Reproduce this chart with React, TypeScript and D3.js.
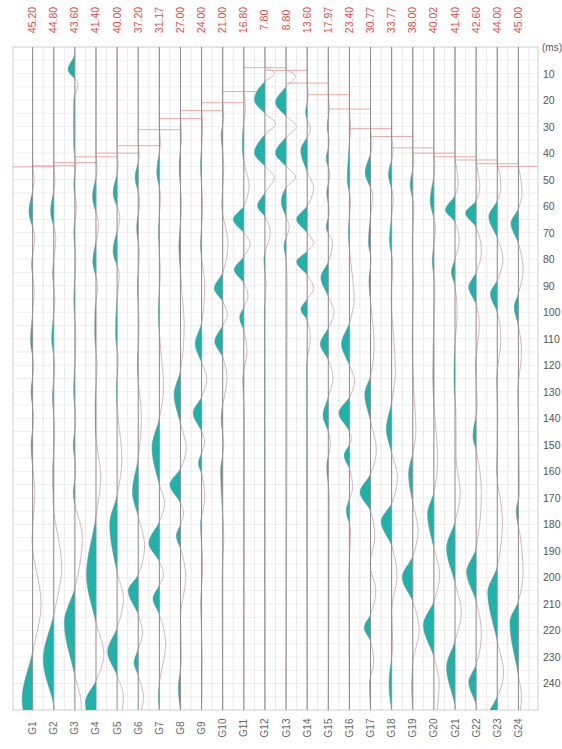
import React, { useRef, useEffect } from 'react';
import * as d3 from 'd3';

// trace names (bottom) and first-break picks in ms (top, red)
const traceNames = ['G1', 'G2', 'G3', 'G4', 'G5', 'G6', 'G7', 'G8', 'G9', 'G10', 'G11', 'G12',
  'G13', 'G14', 'G15', 'G16', 'G17', 'G18', 'G19', 'G20', 'G21', 'G22', 'G23', 'G24'];
const pickTimes = [45.2, 44.8, 43.6, 41.4, 40.0, 37.2, 31.17, 27.0, 24.0, 21.0, 16.8, 7.8,
  8.8, 13.6, 17.97, 23.4, 30.77, 33.77, 38.0, 40.02, 41.4, 42.6, 44.0, 45.0];
const pickLabels = ['45.20', '44.80', '43.60', '41.40', '40.00', '37.20', '31.17', '27.00', '24.00', '21.00', '16.80', '7.80',
  '8.80', '13.60', '17.97', '23.40', '30.77', '33.77', '38.00', '40.02', '41.40', '42.60', '44.00', '45.00'];
const timeTicks = [10, 20, 30, 40, 50, 60, 70, 80, 90, 100, 110, 120, 130, 140, 150, 160, 170, 180, 190, 200, 210, 220, 230, 240];

// wiggle traces: [time ms, amplitude] (positive = filled lobe, drawn to the left)
const g1 = [[0, 0], [44, 0], [50, -0.15], [62, 0.35], [72, -0.2], [82, 0.1], [92, -0.15], [100, 0], [111, 0.2], [120, -0.1], [130, 0.15], [140, -0.1], [150, 0.15], [168, -0.2], [186, 0.05], [210, -0.8], [228, 0], [246, 1.0], [250, 0.9]];
const g2 = [[0, 0], [44, 0], [50, -0.12], [62, 0.3], [72, -0.2], [85, 0.1], [95, -0.1], [110, 0.2], [120, -0.1], [132, 0.12], [145, -0.1], [160, 0.1], [172, 0.05], [196, -0.75], [214, 0], [231, 1.0], [248, 0], [250, -0.1]];
const g3 = [[0, 0], [3, 0.05], [8.5, 0.65], [14, -0.3], [20, 0.1], [30, 0.12], [38, 0.1], [44, -0.1], [52, 0.1], [60, -0.15], [70, 0.1], [80, -0.1], [95, 0.1], [110, -0.1], [130, 0.12], [140, -0.1], [150, 0.15], [160, -0.1], [168, 0.15], [185, -0.7], [204, 0], [217, 1.05], [237, 0], [248, -0.6], [250, -0.6]];
const g4 = [[0, 0], [40, 0], [46, -0.1], [56.5, 0.33], [67, -0.25], [81, 0.3], [90, -0.15], [100, 0.1], [108, 0.12], [120, -0.1], [135, 0.08], [145, 0.05], [162, -0.45], [177, 0], [199, 0.9], [217, 0], [229, -0.75], [239, 0], [247, 1.05], [250, 0.95]];
const g5 = [[0, 0], [39, 0], [45, -0.1], [55, 0.38], [64, -0.25], [77, 0.38], [86, -0.2], [97, 0.05], [108, 0.15], [118, -0.1], [130, 0.08], [140, -0.1], [155, -0.45], [169, 0], [180, 0.7], [198, 0], [208, -0.6], [219, 0], [228, 0.9], [237, 0], [245, -0.6], [250, -0.5]];
const g6 = [[0, 0], [36, 0], [41, -0.1], [49, 0.3], [58, -0.15], [68, 0.15], [78, -0.1], [90, 0.08], [105, -0.08], [120, 0.08], [140, -0.3], [155, 0], [168, 0.55], [177, 0], [188, -0.6], [199, 0], [205, 0.95], [214, 0], [221, -0.4], [227, 0], [232, 0.4], [237, 0], [245, -0.5], [250, -0.3]];
const g7 = [[0, 0], [30, 0], [36, -0.1], [47, 0.25], [56, -0.1], [70, 0.08], [85, -0.08], [100, 0.1], [115, -0.15], [128, -0.4], [140, 0], [151, 0.7], [165, 0], [172, -0.5], [179, 0], [187, 1.05], [194, 0], [199, -0.4], [203, 0], [208, 0.6], [214, 0], [225, -0.6], [240, 0], [245, 0.1], [250, 0]];
const g8 = [[0, 0], [26, 0], [33, -0.1], [45, 0.12], [60, -0.1], [75, 0.15], [90, -0.1], [105, -0.35], [122, 0], [131, 0.6], [142, 0], [151, -0.55], [159, 0], [165, 1.0], [172, 0], [176, -0.3], [180, 0], [184.5, 0.4], [189, 0], [200, -0.5], [215, 0], [230, -0.1], [242, 0.2], [250, 0]];
const g9 = [[0, 0], [23, 0], [30, -0.1], [45, 0.1], [60, -0.1], [75, 0.1], [90, -0.3], [104, 0], [112, 0.6], [119, 0], [125, -0.5], [132, 0], [138, 0.8], [145, 0], [149, -0.3], [153, 0], [157, 0.3], [161, 0], [170, -0.3], [180, 0.1], [195, -0.1], [210, 0.08], [230, -0.05], [250, 0]];
const g10 = [[0, 0], [20, 0], [27, -0.1], [33, 0.15], [45, -0.1], [60, 0.08], [74, -0.5], [85, 0], [91, 0.8], [96, 0], [101, -0.45], [105, 0], [111, 0.75], [117, 0], [125, -0.4], [140, 0.15], [150, -0.1], [160, 0.2], [170, 0.1], [185, -0.1], [200, 0.05], [250, 0]];
const g11 = [[0, 0], [16, 0], [22, -0.15], [32, 0.1], [38, 0.15], [45, -0.1], [52, -0.5], [60, 0], [65, 1.0], [70, 0], [74, -0.6], [79, 0], [84, 0.9], [89, 0], [94, -0.4], [98, 0], [102, 0.4], [107, 0], [115, -0.3], [125, 0.1], [140, -0.05], [250, 0]];
const g12 = [[0, 0], [7, 0], [10, -0.9], [13, 0], [20, 1.4], [25, 0], [29, -1.1], [33, 0], [40, 1.4], [45, 0], [49, -0.9], [55, 0], [60, 0.7], [64, 0], [70, -0.5], [80, 0.1], [90, -0.1], [100, 0.05], [250, 0]];
const g13 = [[0, 0], [8, 0], [11, -0.9], [15, 0], [21, 1.4], [26, 0], [30, -1.0], [34, 0], [40, 1.4], [45, 0], [49, -0.9], [53, 0], [58.5, 0.45], [64, 0], [68, -0.3], [75, 0.2], [80, 0], [90, -0.1], [250, 0]];
const g14 = [[0, 0], [13, 0], [18, -0.1], [25, 0.15], [31, -0.3], [39, 0.6], [47, 0], [53, -0.6], [60, 0], [65, 1.05], [70, 0], [74, -0.6], [77, 0], [81, 1.0], [86, 0], [91, -0.6], [95, 0], [99, 0.6], [103, 0], [110, -0.3], [120, 0.05], [250, 0]];
const g15 = [[0, 0], [17, 0], [23, -0.1], [30, 0.1], [36, -0.1], [42, 0.2], [48, -0.15], [55, 0.15], [62, -0.1], [68, 0.2], [74, -0.4], [81, 0], [87, 0.7], [94, 0], [100, -0.55], [106, 0], [112, 0.75], [118, 0], [125, -0.45], [132, 0], [139, 0.5], [145, 0], [150, -0.2], [158, 0.15], [170, -0.1], [250, 0]];
const g16 = [[0, 0], [23, 0], [30, -0.1], [40, 0.08], [50, 0.2], [58, -0.1], [70, 0.1], [80, -0.1], [95, -0.45], [104, 0], [112, 0.75], [120, 0], [126, -0.5], [132, 0], [138, 1.0], [145, 0], [148, -0.2], [150, 0], [154, 0.5], [159, 0], [166, -0.3], [175, 0.3], [182, -0.1], [200, 0.05], [250, 0]];
const g17 = [[0, 0], [30, 0], [37, -0.15], [47.5, 0.5], [56, -0.2], [65, 0.05], [74, 0.2], [80, -0.05], [88, 0.15], [100, -0.1], [112, -0.35], [124, 0], [131, 0.55], [141, 0], [152, -0.55], [161, 0], [168, 1.0], [175, 0], [185, -0.4], [195, 0.05], [205, -0.5], [214, 0], [219, 0.6], [224, 0], [232, -0.3], [240, 0.1], [250, 0]];
const g18 = [[0, 0], [33, 0], [39, -0.15], [48, 0.3], [57, -0.15], [65, 0.05], [73, 0.2], [82, -0.1], [95, 0.05], [110, -0.2], [122, -0.35], [134, 0], [144, 0.5], [153, 0], [162, -0.55], [172, 0], [179, 1.0], [188, 0], [200, -0.5], [212, 0], [225, -0.1], [240, 0.25], [250, 0]];
const g19 = [[0, 0], [37, 0], [43, -0.1], [52, 0.25], [60, -0.1], [75, 0.05], [90, -0.05], [110, 0.05], [130, -0.1], [145, -0.3], [153, 0], [161, 0.4], [172, 0], [182, -0.5], [192, 0], [200, 1.05], [209, 0], [220, -0.6], [232, 0], [242, 0.1], [250, 0]];
const g20 = [[0, 0], [39, 0], [45, -0.1], [58, 0.35], [68, -0.15], [81, 0.15], [90, -0.1], [110, 0.05], [125, 0.1], [140, -0.1], [155, -0.35], [168, 0], [176, 0.6], [189, 0], [199, -0.55], [209, 0], [218, 1.0], [230, 0], [240, -0.5], [250, -0.3]];
const g21 = [[0, 0], [41, 0], [47, -0.2], [52, -0.3], [56, 0], [61.5, 0.9], [66, 0], [73, -0.4], [80, 0], [85, 0.35], [90, 0], [100, -0.2], [115, 0.05], [125, 0.1], [140, -0.1], [155, -0.1], [168, -0.5], [179, 0], [189, 0.8], [202, 0], [213, -0.6], [224, 0], [234, 0.8], [248, 0], [250, -0.1]];
const g22 = [[0, 0], [42, 0], [48, -0.2], [52, -0.35], [58, 0], [62.6, 1.0], [68, 0], [77, -0.5], [85, 0], [90.5, 0.7], [97, 0], [105, -0.3], [120, 0.05], [135, -0.1], [147, 0.3], [152, 0], [168, -0.5], [189, 0], [198, 0.9], [209, 0], [221, -0.5], [233, 0], [239.5, 0.7], [248, 0], [250, -0.1]];
const g23 = [[0, 0], [43, 0], [48, -0.25], [53, -0.35], [58, 0], [64, 0.8], [72, 0], [80, -0.55], [88, 0], [93, 0.65], [100, 0], [110, -0.35], [125, 0.05], [140, -0.05], [160, 0.05], [178, -0.5], [196, 0], [205.6, 0.9], [224, 0], [236, -0.6], [245, 0], [250, 0.7]];
const g24 = [[0, 0], [44, 0], [49, -0.2], [55, -0.35], [61, 0], [66.5, 0.7], [74, 0], [84, -0.45], [93, 0], [98, 0.4], [105, 0], [115, -0.3], [130, 0.05], [150, -0.05], [168, -0.1], [175, 0.2], [185, -0.2], [198, -0.45], [209, 0], [217, 0.8], [237, 0], [245, -0.3], [250, -0.2]];

const traces = [g1, g2, g3, g4, g5, g6, g7, g8, g9, g10, g11, g12,
  g13, g14, g15, g16, g17, g18, g19, g20, g21, g22, g23, g24];

const App = () => {
  const svgRef = useRef<SVGSVGElement>(null);

  useEffect(() => {
    const svgElement = svgRef.current;
    if (!svgElement) return;
    const svg = d3.select(svgElement);
    svg.selectAll('*').remove();

    const left = 13, right = 538, top = 47, bottom = 710;
    const font = '"Liberation Sans", Arial, sans-serif';

    const x = d3.scalePoint<string>().domain(traceNames).range([left, right]).padding(0.93);
    const step = x.step();
    const y = d3.scaleLinear().domain([0, 250]).range([top, bottom]);
    const amp = d3.scaleLinear().domain([-1, 1]).range([-step / 2, step / 2]).clamp(true);

    // faint grid
    const grid = svg.append('g');
    grid.selectAll('line.h')
      .data(d3.range(5, 250, 5))
      .join('line')
      .attr('x1', left).attr('x2', right)
      .attr('y1', d => y(d)).attr('y2', d => y(d))
      .attr('stroke', '#efefef').attr('stroke-width', 1);
    grid.selectAll('line.v')
      .data(traceNames)
      .join('line')
      .attr('x1', d => (x(d) as number) + step / 2).attr('x2', d => (x(d) as number) + step / 2)
      .attr('y1', top).attr('y2', bottom)
      .attr('stroke', '#e8e8e8').attr('stroke-width', 1);
    grid.append('rect')
      .attr('x', left).attr('y', top)
      .attr('width', right - left).attr('height', bottom - top)
      .attr('fill', 'none').attr('stroke', '#cfcfcf');

    // first break picks
    svg.append('g').selectAll('line')
      .data(traceNames)
      .join('line')
      .attr('x1', d => Math.max(left, (x(d) as number) - step))
      .attr('x2', d => Math.min(right, (x(d) as number) + step))
      .attr('y1', (d, i) => y(pickTimes[i]))
      .attr('y2', (d, i) => y(pickTimes[i]))
      .attr('stroke', '#f2a6a6').attr('stroke-width', 1);

    const defs = svg.append('defs');
    traceNames.forEach((name, i) => {
      defs.append('clipPath').attr('id', `clip-${i}`)
        .append('rect')
        .attr('x', 0).attr('y', top)
        .attr('width', x(name) as number).attr('height', bottom - top);
    });

    const tg = svg.append('g');
    traceNames.forEach((name, i) => {
      const bx = x(name) as number;
      const pts = traces[i] as [number, number][];
      const line = d3.line<[number, number]>()
        .y(d => y(d[0]))
        .x(d => bx - amp(d[1]))
        .curve(d3.curveMonotoneY);
      const area = d3.area<[number, number]>()
        .y(d => y(d[0]))
        .x0(bx)
        .x1(d => bx - amp(d[1]))
        .curve(d3.curveMonotoneY);

      tg.append('path')
        .attr('d', line(pts))
        .attr('fill', 'none')
        .attr('stroke', '#d9b6c2')
        .attr('stroke-width', 1);
      tg.append('path')
        .attr('d', area(pts))
        .attr('clip-path', `url(#clip-${i})`)
        .attr('fill', '#1db3ab');
      tg.append('line')
        .attr('x1', bx).attr('x2', bx)
        .attr('y1', top).attr('y2', bottom)
        .attr('stroke', '#8c8c8c').attr('stroke-width', 1);
    });

    // top pick labels
    svg.append('g').selectAll('text')
      .data(pickLabels)
      .join('text')
      .attr('transform', (d, i) => `translate(${(x(traceNames[i]) as number) + 3.5},20) rotate(-90)`)
      .attr('text-anchor', 'middle')
      .style('font-family', font)
      .style('font-size', '10.5px')
      .attr('fill', '#e8483f')
      .text(d => d);

    // bottom trace labels
    svg.append('g').selectAll('text')
      .data(traceNames)
      .join('text')
      .attr('transform', d => `translate(${(x(d) as number) + 3.5},728) rotate(-90)`)
      .attr('text-anchor', 'middle')
      .style('font-family', font)
      .style('font-size', '10px')
      .attr('fill', '#666')
      .text(d => d);

    // right time axis (kept inside the window)
    const ax = svg.append('g');
    ax.append('text')
      .attr('x', 542).attr('y', y(0) + 4)
      .style('font-family', font).style('font-size', '10px')
      .attr('fill', '#555')
      .text('(ms)');
    ax.selectAll('text.t')
      .data(timeTicks)
      .join('text')
      .attr('x', 543).attr('y', d => y(d) + 4)
      .style('font-family', font).style('font-size', '10.5px')
      .attr('fill', '#555')
      .text(d => d);
  }, []);

  return (
    <svg
      ref={svgRef}
      width={562}
      height={749}
      style={{ position: 'absolute', left: 0, top: 0, background: '#fff' }}
    />
  );
};

export default App;
